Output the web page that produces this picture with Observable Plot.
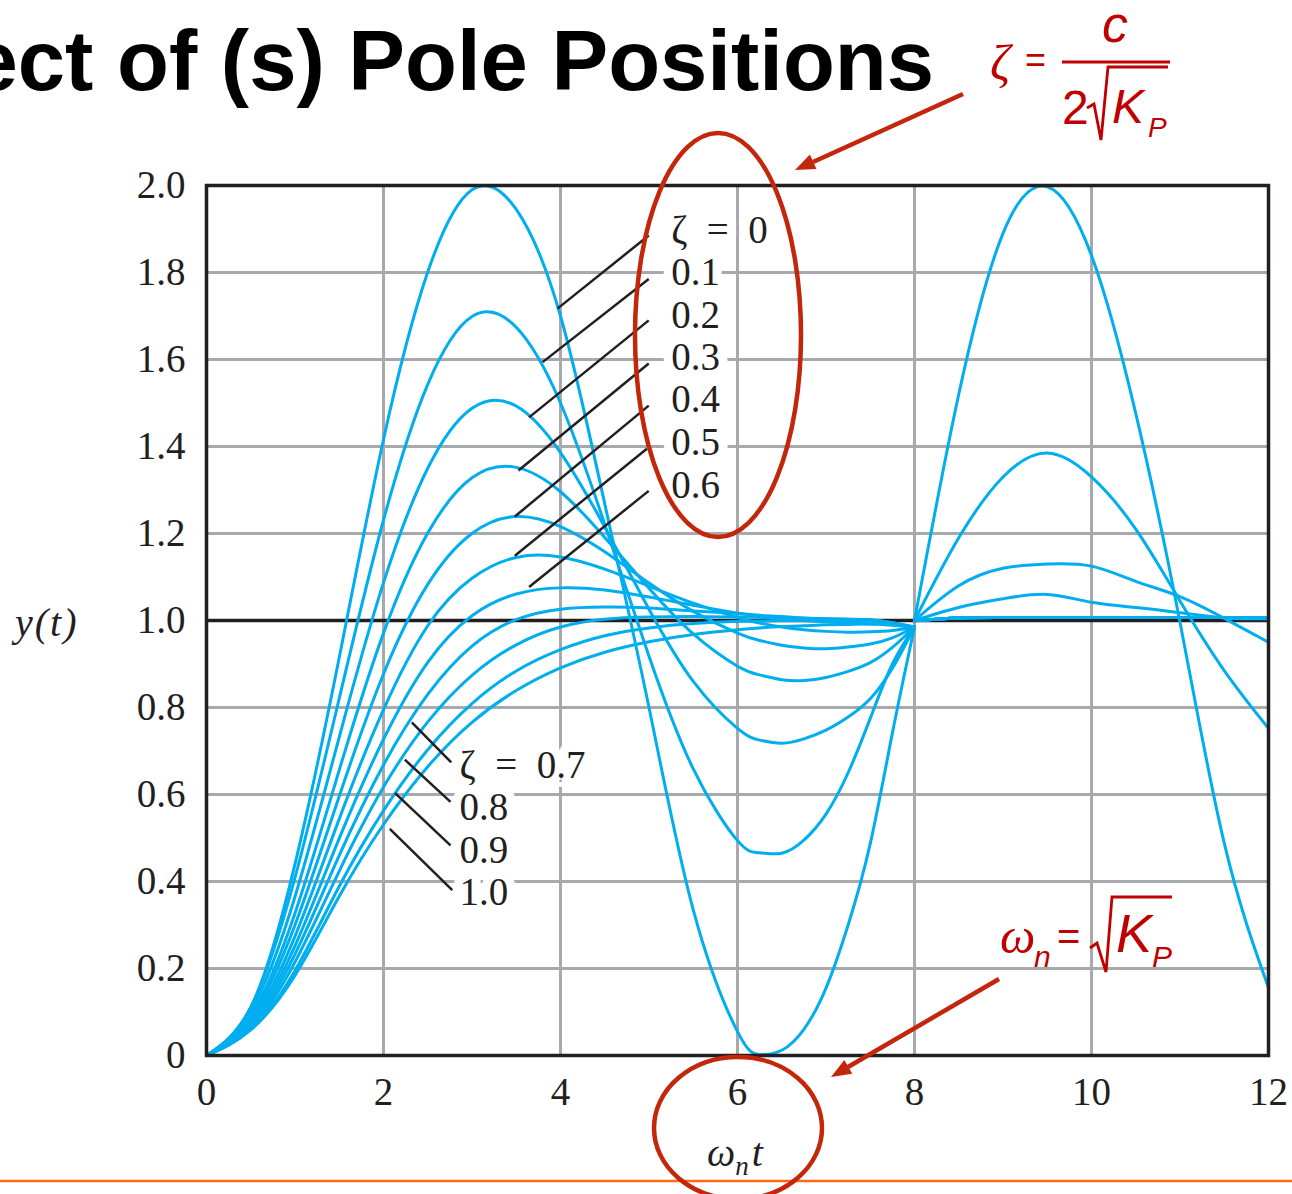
<!DOCTYPE html>
<html>
<head>
<meta charset="utf-8">
<script src="https://cdn.jsdelivr.net/npm/d3@7"></script>
<script src="https://cdn.jsdelivr.net/npm/@observablehq/plot@0.6"></script>
<style>
  html, body { margin: 0; padding: 0; background: #fff; overflow: hidden; }
  #wrap { position: relative; width: 1292px; height: 1194px; }
  #chart { position: absolute; left: 0; top: 0; }
  #title {
    position: absolute; right: 358px; top: 18px;
    font: bold 85px/85px "Liberation Sans", Arial, sans-serif;
    color: #000; white-space: nowrap;
  }
  #overlay { position: absolute; left: 0; top: 0; pointer-events: none; }
</style>
</head>
<body>
<div id="wrap">
  <div id="chart"></div>
  <div id="title">Effect of (s) Pole Positions</div>
  <svg id="overlay" width="1292" height="1194" xmlns="http://www.w3.org/2000/svg">
    <!-- slide rule at the bottom -->
    <line x1="0" y1="1181" x2="1292" y2="1181" stroke="#ff6a13" stroke-width="2.5"/>
    <!-- axis titles -->
    <text x="15" y="636" font-family="Liberation Serif, serif" font-style="italic" font-size="40" letter-spacing="2" fill="#231f20">y(t)</text>
    <text x="707" y="1166" font-family="Liberation Serif, serif" font-style="italic" font-size="40" fill="#231f20">ω<tspan font-size="27" dy="9">n</tspan><tspan dy="-9" dx="3">t</tspan></text>
    <!-- highlight ellipses and arrows -->
    <g fill="none" stroke="#c3260b" stroke-width="4.5">
      <ellipse cx="718" cy="335" rx="83" ry="202"/>
      <ellipse cx="738" cy="1128" rx="84" ry="71"/>
      <line x1="963" y1="94" x2="813" y2="162"/>
      <line x1="999" y1="979" x2="848" y2="1067"/>
    </g>
    <g fill="#c3260b">
      <polygon points="795,170 809.9,154.5 816.5,169.1"/>
      <polygon points="831,1077 844.3,1060 852.3,1073.8"/>
    </g>
    <!-- damping ratio and natural frequency formulas -->
    <g fill="#c00000" font-family="Liberation Sans, Arial, sans-serif">
      <text x="990" y="80" font-family="Liberation Serif, serif" font-style="italic" font-size="50">ζ</text>
      <text x="1025" y="72" font-size="36">=</text>
      <text x="1102" y="42" font-style="italic" font-size="52">c</text>
      <text x="1062" y="124" font-size="48">2</text>
      <text x="1112" y="123" font-style="italic" font-size="48">K</text>
      <text x="1148" y="137" font-style="italic" font-size="28">P</text>
      <text x="1000" y="953" font-family="Liberation Serif, serif" font-style="italic" font-size="50">ω</text>
      <text x="1034" y="967" font-style="italic" font-size="30">n</text>
      <text x="1057" y="950" font-size="40">=</text>
      <text x="1116" y="952" font-style="italic" font-size="54">K</text>
      <text x="1152" y="967" font-style="italic" font-size="30">P</text>
    </g>
    <g fill="none" stroke="#c00000" stroke-width="2.8">
      <line x1="1062" y1="62" x2="1170" y2="62"/>
      <path d="M1087,108 L1094,104 L1101,140 L1108,67 L1168,67"/>
      <path d="M1090,948 L1097,943 L1106,972 L1112,897 L1172,897"/>
    </g>
  </svg>
</div>
<script>
// Damping ratios drawn, one curve per value
const zetas = [0, 0.1, 0.2, 0.3, 0.4, 0.5, 0.6, 0.7, 0.8, 0.9, 1.0];

// Normalised time ωn·t sampled for the first segment (0–8) and the second (8–12)
const tLeft = [0, 0.5, 1, 1.5, 2, 2.5, 3, 3.5, 4, 4.5, 5, 5.5, 6, 6.25, 6.5, 6.75, 7, 7.25, 7.5, 7.75, 8];
const tRight = [8, 8.5, 9, 9.5, 10, 10.5, 11, 11.5, 12];

// Step response y(t), first segment
const leftZ00 = [0, 0.110, 0.440, 0.915, 1.416, 1.801, 1.990, 1.945, 1.700, 1.268, 0.800, 0.335, 0.055, 0.002, 0.012, 0.060, 0.155, 0.300, 0.487, 0.741, 0.985];
const leftZ01 = [0, 0.111, 0.409, 0.821, 1.231, 1.543, 1.699, 1.674, 1.500, 1.221, 0.918, 0.659, 0.494, 0.466, 0.465, 0.495, 0.555, 0.650, 0.775, 0.900, 0.985];
const leftZ02 = [0, 0.102, 0.365, 0.732, 1.087, 1.350, 1.488, 1.493, 1.386, 1.215, 1.026, 0.860, 0.752, 0.725, 0.718, 0.728, 0.748, 0.778, 0.820, 0.890, 0.985];
const leftZ03 = [0, 0.092, 0.327, 0.656, 0.971, 1.201, 1.328, 1.352, 1.296, 1.191, 1.074, 0.969, 0.895, 0.875, 0.864, 0.862, 0.869, 0.883, 0.903, 0.938, 0.985];
const leftZ04 = [0, 0.086, 0.300, 0.596, 0.877, 1.083, 1.200, 1.239, 1.216, 1.158, 1.086, 1.021, 0.971, 0.954, 0.943, 0.937, 0.935, 0.939, 0.946, 0.960, 0.985];
const leftZ05 = [0, 0.079, 0.274, 0.544, 0.795, 0.988, 1.097, 1.145, 1.146, 1.118, 1.079, 1.040, 1.007, 0.994, 0.985, 0.979, 0.975, 0.973, 0.974, 0.977, 0.985];
const leftZ06 = [0, 0.073, 0.252, 0.499, 0.727, 0.904, 1.011, 1.061, 1.075, 1.070, 1.054, 1.035, 1.017, 1.010, 1.005, 1.000, 0.997, 0.994, 0.992, 0.991, 0.985];
const leftZ07 = [0, 0.068, 0.233, 0.460, 0.668, 0.830, 0.941, 1.002, 1.026, 1.031, 1.029, 1.022, 1.016, 1.012, 1.009, 1.006, 1.004, 1.003, 1.001, 0.995, 0.985];
const leftZ08 = [0, 0.063, 0.215, 0.424, 0.617, 0.767, 0.874, 0.944, 0.985, 1.003, 1.008, 1.009, 1.008, 1.007, 1.006, 1.005, 1.004, 1.003, 1.002, 0.995, 0.985];
const leftZ09 = [0, 0.060, 0.195, 0.389, 0.563, 0.703, 0.809, 0.884, 0.933, 0.965, 0.983, 0.993, 0.998, 0.999, 1.000, 1.000, 1.000, 1.000, 0.999, 0.993, 0.985];
const leftZ10 = [0, 0.059, 0.184, 0.366, 0.531, 0.664, 0.766, 0.839, 0.891, 0.927, 0.951, 0.968, 0.979, 0.983, 0.986, 0.988, 0.990, 0.991, 0.992, 0.989, 0.985];

// Step response y(t), second segment
const rightZ00 = [1.0, 1.52, 1.89, 1.997, 1.839, 1.476, 0.996, 0.488, 0.156];
const rightZ01 = [1.0, 1.19, 1.33, 1.385, 1.33, 1.21, 1.045, 0.885, 0.752];
const rightZ02 = [1.0, 1.08, 1.12, 1.13, 1.125, 1.09, 1.055, 1.005, 0.95];
const rightZ03 = [1.0, 1.03, 1.05, 1.06, 1.042, 1.03, 1.018, 1.006, 1.004];
const rightSettled = [1.0, 1.006, 1.007, 1.007, 1.007, 1.007, 1.007, 1.007, 1.007];

const leftSeries = [leftZ00, leftZ01, leftZ02, leftZ03, leftZ04, leftZ05, leftZ06, leftZ07, leftZ08, leftZ09, leftZ10];
const rightSeries = [rightZ00, rightZ01, rightZ02, rightZ03, rightSettled, rightSettled, rightSettled, rightSettled, rightSettled, rightSettled, rightSettled];

// Axis ticks
const xTicks = [0, 2, 4, 6, 8, 10, 12];
const yTicks = [0, 0.2, 0.4, 0.6, 0.8, 1.0, 1.2, 1.4, 1.6, 1.8, 2.0];
const xGrid = [2, 4, 6, 8, 10];
const yGrid = [0.2, 0.4, 0.6, 0.8, 1.2, 1.4, 1.6, 1.8];

// Curve labels, upper group (ζ = 0 … 0.6) and lower group (ζ = 0.7 … 1.0)
const upperText = ["ζ\u2002=\u20020", "0.1", "0.2", "0.3", "0.4", "0.5", "0.6"];
const upperTextY = [1.897, 1.800, 1.701, 1.605, 1.508, 1.410, 1.310];
const upperLeaderFrom = [[4.997, 1.885], [4.997, 1.785], [4.997, 1.690], [4.997, 1.591], [4.997, 1.494], [4.976, 1.395], [4.997, 1.298]];
const upperLeaderTo = [[3.966, 1.717], [3.798, 1.594], [3.645, 1.467], [3.525, 1.345], [3.484, 1.239], [3.484, 1.149], [3.645, 1.077]];
const lowerText = ["ζ\u2002=\u20020.7", "0.8", "0.9", "1.0"];
const lowerTextY = [0.667, 0.571, 0.471, 0.375];
const lowerLeaderFrom = [[2.320, 0.766], [2.241, 0.680], [2.131, 0.603], [2.071, 0.521]];
const lowerLeaderTo = [[2.765, 0.674], [2.757, 0.583], [2.757, 0.483], [2.777, 0.380]];

// Long-format table for the line mark
const curves = [];
zetas.forEach((z, i) => {
  leftSeries[i].forEach((y, j) => curves.push({zeta: z, part: "a", t: tLeft[j], y}));
  rightSeries[i].forEach((y, j) => curves.push({zeta: z, part: "b", t: tRight[j], y}));
});

const labels = [
  ...upperText.map((s, i) => ({s, t: 5.25, y: upperTextY[i]})),
  ...lowerText.map((s, i) => ({s, t: 2.86, y: lowerTextY[i]}))
];
const leaders = [
  ...upperLeaderFrom.map((p, i) => ({x1: p[0], y1: p[1], x2: upperLeaderTo[i][0], y2: upperLeaderTo[i][1]})),
  ...lowerLeaderFrom.map((p, i) => ({x1: p[0], y1: p[1], x2: lowerLeaderTo[i][0], y2: lowerLeaderTo[i][1]}))
];

const ink = "#231f20";
const chart = Plot.plot({
  width: 1292,
  height: 1194,
  marginLeft: 206,
  marginRight: 24,
  marginTop: 185,
  marginBottom: 139,
  style: {fontFamily: '"Liberation Serif", "Times New Roman", serif', fontSize: "39px", color: ink, background: "white"},
  x: {domain: [0, 12]},
  y: {domain: [0, 2]},
  marks: [
    Plot.gridX(xGrid, {stroke: "#a7a9ac", strokeOpacity: 1, strokeWidth: 3}),
    Plot.gridY(yGrid, {stroke: "#a7a9ac", strokeOpacity: 1, strokeWidth: 3}),
    Plot.ruleY([1], {stroke: ink, strokeWidth: 3.5}),
    Plot.line(curves, {x: "t", y: "y", z: d => d.zeta + d.part, stroke: "#00aeef", strokeWidth: 3, curve: "natural", clip: true}),
    Plot.frame({stroke: ink, strokeWidth: 3.5}),
    Plot.axisX(xTicks, {tickSize: 0, tickPadding: 22, fontSize: 39, label: null}),
    Plot.axisY(yTicks, {tickSize: 0, tickPadding: 21, fontSize: 39, label: null, tickFormat: d => d === 0 ? "0" : d.toFixed(1)}),
    Plot.link(leaders, {x1: "x1", y1: "y1", x2: "x2", y2: "y2", stroke: ink, strokeWidth: 2.5}),
    Plot.text(labels, {x: "t", y: "y", text: "s", textAnchor: "start", fontSize: 39, fill: ink, stroke: "white", strokeWidth: 18})
  ]
});
document.getElementById("chart").appendChild(chart);
</script>
</body>
</html>
